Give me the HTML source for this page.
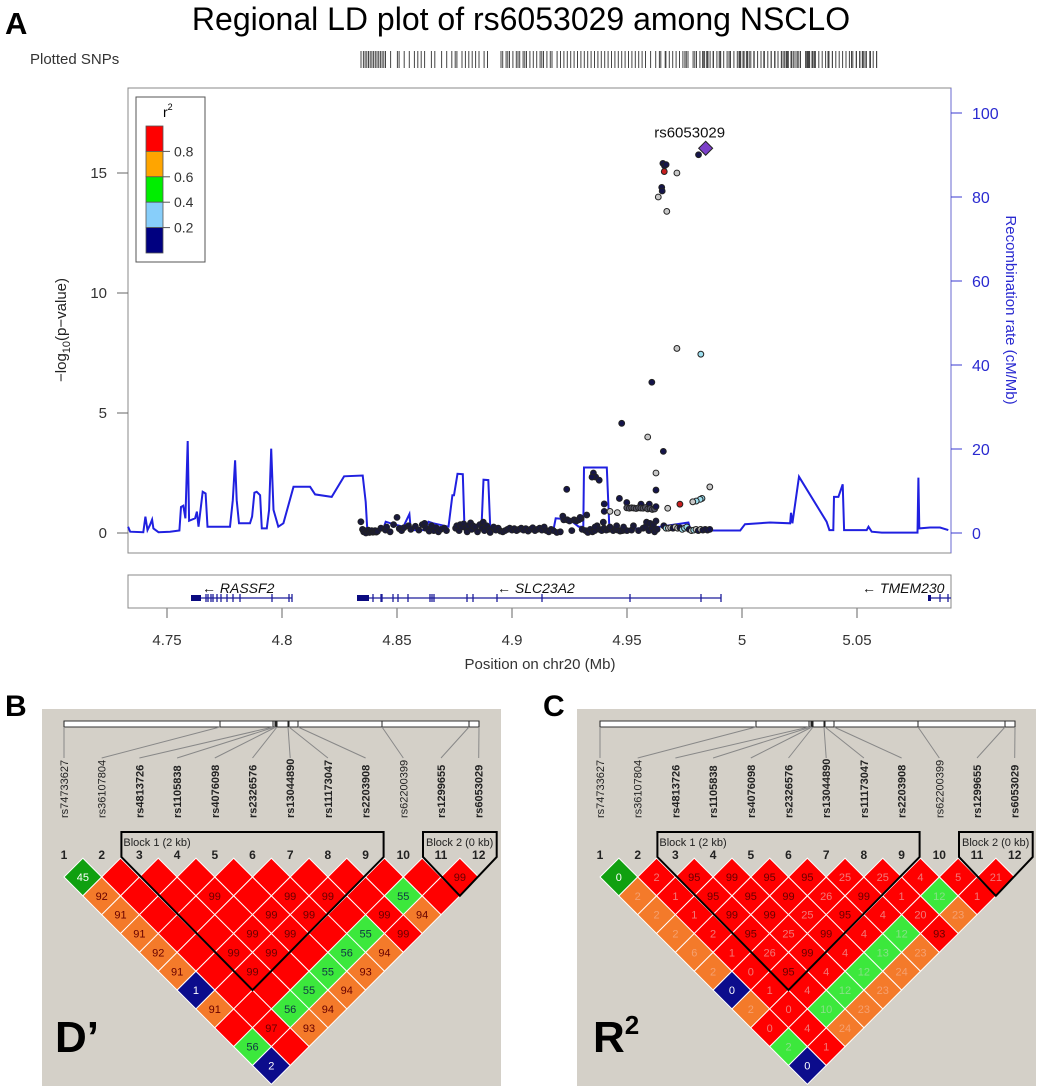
<!DOCTYPE html>
<html><head><meta charset="utf-8"><style>
html,body{margin:0;padding:0;background:#fff}
svg{display:block;font-family:"Liberation Sans",Arial,sans-serif}
</style></head><body>
<svg id="fig" width="1040" height="1090" viewBox="0 0 1040 1090" xmlns="http://www.w3.org/2000/svg">
<text x="5" y="34" font-size="31" font-weight="bold">A</text>
<text x="521" y="30" font-size="32" text-anchor="middle">Regional LD plot of rs6053029 among NSCLO</text>
<text x="30" y="64" font-size="15" fill="#333">Plotted SNPs</text>
<g id="snpbar"></g>
<rect x="128" y="88" width="823" height="465" fill="none" stroke="#888" stroke-width="1"/>
<g id="recomb"></g>
<g id="points"></g>
<g id="axes"></g>
<text transform="translate(66,330) rotate(-90)" font-size="15" text-anchor="middle" fill="#222">−log<tspan font-size="11" dy="4">10</tspan><tspan dy="-4">(p−value)</tspan></text>
<text transform="translate(1006,310) rotate(90)" font-size="15" text-anchor="middle" fill="#2a2ad0">Recombination rate (cM/Mb)</text>
<g>
<rect x="136" y="97" width="69" height="165" fill="#fff" stroke="#555"/>
<text x="163" y="117" font-size="14">r<tspan font-size="9" dy="-7">2</tspan></text>
<g id="legend-bar"></g>
</g>
<rect x="128" y="575" width="823" height="33" fill="#fff" stroke="#888"/>
<g id="genes"></g>
<text x="540" y="669" font-size="15" text-anchor="middle" fill="#333">Position on chr20 (Mb)</text>

<text x="5" y="716" font-size="30" font-weight="bold">B</text>
<text x="543" y="716" font-size="30" font-weight="bold">C</text>
<rect x="42" y="709" width="459" height="377" fill="#d4d0c8"/>
<rect x="577" y="709" width="459" height="377" fill="#d4d0c8"/>
<g id="ldB"></g>
<g id="ldC"></g>
<text x="55" y="1052" font-size="44" font-weight="bold">D’</text>
<text x="593" y="1052" font-size="44" font-weight="bold">R<tspan font-size="26" dy="-18">2</tspan></text>
</svg>
<script>
// ---- Panel A data ----
const xTicks = [4.75, 4.8, 4.85, 4.9, 4.95, 5, 5.05];
const xTickLabels = ["4.75", "4.8", "4.85", "4.9", "4.95", "5", "5.05"];
const yTicks = [0, 5, 10, 15];
const rTicks = [0, 20, 40, 60, 80, 100];
const recPos = [4.7331,4.734,4.7397,4.7406,4.7415,4.7426,4.7435,4.7441,4.7463,4.7513,4.7554,4.7561,4.7571,4.758,4.759,4.7596,4.7622,4.763,4.7637,4.7655,4.7668,4.7676,4.7774,4.7786,4.7796,4.7803,4.7813,4.7861,4.787,4.788,4.789,4.7905,4.7912,4.7934,4.7944,4.7953,4.7963,4.7984,4.8006,4.805,4.8122,4.8144,4.8216,4.827,4.8351,4.8364,4.8371,4.8441,4.8451,4.8484,4.8528,4.8554,4.856,4.8622,4.8637,4.8658,4.8724,4.8741,4.8748,4.8763,4.8786,4.8793,4.8868,4.8876,4.8897,4.8905,4.8963,4.918,4.919,4.925,4.929,4.931,4.9313,4.9412,4.9423,4.9499,4.9644,4.9767,4.9777,4.9992,5.0013,5.0122,5.0209,5.0213,5.0219,5.0248,5.0368,5.038,5.0397,5.04,5.0419,5.0438,5.0444,5.0542,5.055,5.0564,5.0608,5.0763,5.0767,5.0771,5.0818,5.0861,5.0897];
const recRate = [1.5,0.3,0.2,3.9,0.7,1.9,3.2,1.1,0.2,0.3,0.6,6.2,6.5,3.5,21.9,2.9,3.5,5.1,1.5,9.8,9.4,1.5,1.5,7.8,17.3,7.8,2.3,2.3,3.9,9.6,9.8,9.0,1.1,1.1,5.5,20.1,5.5,1.5,2.3,11.0,11.0,9.2,8.6,13.5,13.7,7.4,0.7,1.1,2.7,2.1,1.5,4.5,0.7,0.7,2.7,2.3,1.5,9.0,9.0,14.1,14.0,1.9,1.9,12.7,12.6,1.5,0.3,0.7,3.5,3.2,1.5,1.5,15.6,15.6,1.5,0.9,1.5,2.5,0.6,0.6,2.1,2.5,2.3,4.8,2.3,13.4,2.7,0.7,0.7,8.6,8.6,11.6,0.7,0.7,1.5,0.3,0.1,0.1,13.2,1.1,1.3,1.3,0.7];
const basePos = [4.835,4.8355,4.836,4.8365,4.837,4.8375,4.838,4.8385,4.839,4.8395,4.84,4.8405,4.841,4.8415,4.8343,4.843,4.845,4.8455,4.847,4.8485,4.85,4.851,4.852,4.853,4.855,4.856,4.858,4.8595,4.861,4.862,4.8625,4.864,4.865,4.866,4.867,4.868,4.869,4.8705,4.8715,4.8755,4.876,4.877,4.8775,4.878,4.879,4.88,4.8805,4.881,4.882,4.8825,4.883,4.884,4.885,4.886,4.887,4.8875,4.888,4.889,4.89,4.8905,4.892,4.893,4.894,4.895,4.896,4.897,4.898,4.899,4.9,4.901,4.902,4.903,4.904,4.905,4.906,4.907,4.908,4.909,4.91,4.911,4.912,4.913,4.914,4.915,4.916,4.917,4.918,4.9195,4.921,4.9225,4.924,4.925,4.926,4.927,4.928,4.929,4.93,4.9305,4.932,4.933,4.934,4.935,4.936,4.937,4.938,4.939,4.94,4.941,4.942,4.943,4.944,4.945,4.946,4.947,4.948,4.949,4.95,4.952,4.955,4.957,4.958,4.9595,4.961,4.962,4.9221,4.9296,4.9325,4.9361,4.9397,4.9426,4.9455,4.9485,4.9528,4.9585,4.96,4.9615,4.9626,4.9631];
const baseLogP = [.15,.05,.1,0,.08,.12,.02,.06,.1,.03,.05,.1,.04,.07,.47,.2,.12,.25,.05,.35,.65,.18,.1,.22,.3,.15,.28,.12,.35,.4,.2,.08,.3,.1,.22,.05,.15,.2,.1,.2,.3,.1,.35,.25,.38,.2,.05,.3,.42,.15,.3,.25,.05,.35,.2,.45,.1,.3,.15,.02,.25,.12,.2,.08,.05,.1,.15,.2,.12,.18,.1,.15,.2,.12,.18,.08,.15,.22,.1,.15,.2,.12,.25,.1,.05,.15,.1,.02,.05,.55,.55,.5,.1,.55,.5,.55,.6,.15,.1,.02,.15,.05,.1,.3,.15,.1,.2,.12,.15,.18,.1,.15,.12,.08,.1,.12,.1,.12,.1,.2,.25,.1,.2,.05,.7,.65,.75,.25,.45,.25,.3,.25,.3,.45,.4,.35,.5,.15];
const midPos = [4.9401,4.9401,4.9426,4.9458,4.9467,4.9499,4.9561,4.9597,4.9499,4.951,4.952,4.953,4.954,4.955,4.956,4.957,4.958,4.959,4.96,4.961,4.962,4.9626,4.9238,4.9354,4.9364,4.9348,4.9379,4.9477,4.9608,4.959,4.9658,4.9626,4.9626,4.986,4.9826,4.9818,4.9801,4.9786,4.973,4.9677,4.966,4.967,4.968,4.969,4.97,4.971,4.972,4.973,4.974,4.975,4.976,4.977,4.978,4.979,4.98,4.981,4.982,4.983,4.984,4.985,4.986,4.9811,4.9656,4.9663,4.967,4.9662,4.9717,4.9651,4.9653,4.9636,4.9673,4.9717,4.9821];
const midLogP = [1.21,0.9,0.9,0.85,1.44,1.27,1.2,1.2,1.05,1.03,1.05,1.04,1.02,1.05,1.04,1.03,1.06,1.0,1.02,0.98,1.0,1.1,1.82,2.5,2.33,2.33,2.2,4.57,6.28,4.0,3.4,2.5,1.79,1.92,1.44,1.4,1.33,1.3,1.2,1.03,0.3,0.2,0.2,0.22,0.2,0.25,0.2,0.22,0.15,0.2,0.25,0.15,0.1,0.12,0.15,0.1,0.15,0.12,0.15,0.12,0.15,15.76,15.4,15.3,15.35,15.06,15.0,14.4,14.25,14.0,13.4,7.69,7.45];
const midCat = ["n","n","g","g","n","n","n","n","d","d","d","d","d","d","d","d","d","d","d","d","d","n","n","n","n","n","n","n","n","g","n","g","n","g","c","c","c","g","r","g","n","c","g","g","n","g","g","n","c","c","c","n","g","c","g","n","g","n","n","n","n","n","n","n","n","r","g","n","n","g","g","g","c"];
const leadPos = [4.9842];
const leadLogP = [16.03];
const legendBreaks = ["0.8","0.6","0.4","0.2"];
const legendColors = ["#ff0000","#ffa500","#00ee00","#87cefa","#000080"];

const X = v => 167 + (v - 4.75) * 2300;
const Y = v => 533 - v * 24;
const R = v => 533 - v * 4.2;
const NS = "http://www.w3.org/2000/svg";
function mk(tag, attrs, parent, txt) {
  const e = document.createElementNS(NS, tag);
  for (const k in attrs) e.setAttribute(k, attrs[k]);
  if (txt !== undefined) e.textContent = txt;
  parent.appendChild(e); return e;
}
const axes = document.getElementById('axes');
xTicks.forEach((t, i) => {
  const l = mk('line', {x1: X(t), x2: X(t), y1: 608, y2: 618, stroke: '#666'}, axes);
  
  
  const tx = mk('text', {x: X(t), y: 645, 'font-size': 15, 'text-anchor': 'middle', fill: '#333'}, axes, xTickLabels[i]);
  
  
});
yTicks.forEach(t => {
  mk('line', {x1: 117, x2: 128, y1: Y(t), y2: Y(t), stroke: '#666'}, axes);
  const tx = mk('text', {x: 107, y: Y(t) + 5, 'font-size': 15, 'text-anchor': 'end', fill: '#333'}, axes, String(t));
  
  
});
mk('line', {x1: 951, x2: 951, y1: 88, y2: 553, stroke: '#6a6ad0'}, axes);
rTicks.forEach(t => {
  mk('line', {x1: 951, x2: 962, y1: R(t), y2: R(t), stroke: '#3a3ad0'}, axes);
  const tx = mk('text', {x: 972, y: R(t) + 6, 'font-size': 16, fill: '#2a2ad0'}, axes, String(t));
  
  
});
// recombination line
const rec = document.getElementById('recomb');
let d = recPos.map((p, i) => (i ? 'L' : 'M') + X(p).toFixed(1) + ' ' + R(recRate[i]).toFixed(1)).join(' ');
const rp = mk('path', {d: d, fill: 'none', stroke: '#2020e0', 'stroke-width': 2}, rec);


// points
const pts = document.getElementById('points');
const catFill = {n: '#14144a', g: '#c8c8c8', c: '#9fe0f0', r: '#c81e1e', d: '#555566'};
basePos.forEach((p, i) => {
  const c = mk('circle', {cx: X(p), cy: Y(baseLogP[i]), r: 3, fill: '#1a1a3a', stroke: '#222', 'stroke-width': 0.8}, pts);
  
  
});
midPos.forEach((p, i) => {
  const c = mk('circle', {cx: X(p), cy: Y(midLogP[i]), r: 2.9, fill: catFill[midCat[i]], stroke: '#222', 'stroke-width': 1}, pts);
  
  
});
leadPos.forEach((p, i) => {
  const x = X(p), y = Y(leadLogP[i]);
  const dm = mk('path', {d: `M${x} ${y-7}L${x+7} ${y}L${x} ${y+7}L${x-7} ${y}Z`, fill: '#7b3fc8', stroke: '#222', 'stroke-width': 1}, pts);
  
  
  const t = mk('text', {x: x - 16, y: y - 11, 'font-size': 15, 'text-anchor': 'middle', fill: '#111'}, pts, 'rs6053029');
  
  
});
// plotted SNPs bar
const bar = document.getElementById('snpbar');
const allPos = basePos.concat(midPos, leadPos).sort((a, b) => a - b);
const bx = p => 360 + (p - 4.834) / (4.987 - 4.834) * 520;
allPos.forEach(p => {
  mk('line', {x1: bx(p).toFixed(1), x2: bx(p).toFixed(1), y1: 51, y2: 68, stroke: '#444', 'stroke-width': 1}, bar);
});
// legend
const lb = document.getElementById('legend-bar');
legendColors.forEach((c, i) => {
  const r = mk('rect', {x: 146, y: 126 + i * 25.4, width: 17, height: 25.4, fill: c, stroke: '#555', 'stroke-width': 0.8}, lb);
  
  
});
legendBreaks.forEach((t, i) => {
  const y = 126 + (i + 1) * 25.4;
  mk('line', {x1: 163, x2: 170, y1: y, y2: y, stroke: '#555'}, lb);
  const tx = mk('text', {x: 174, y: y + 5, 'font-size': 14, fill: '#333'}, lb, t);
  
  
});
// genes
const genes = document.getElementById('genes');
function gene(name, x0, x1, thick, exons, lx) {
  mk('line', {x1: x0, x2: x1, y1: 598, y2: 598, stroke: '#1c1c9a', 'stroke-width': 1.2}, genes);
  mk('rect', {x: thick[0], y: 595, width: thick[1] - thick[0], height: 6, fill: '#0a0a80'}, genes);
  exons.forEach(e => mk('line', {x1: e, x2: e, y1: 594, y2: 602, stroke: '#1c1c9a', 'stroke-width': 1.3}, genes));
  const t = mk('text', {x: lx, y: 593, 'font-size': 14, 'font-style': 'italic', fill: '#111'}, genes, '← ' + name);
  
  
}
gene('RASSF2', 191, 292, [191, 201], [206,208,211,213,217,221,227,233,240,272,289,292], 202);
gene('SLC23A2', 357, 721, [357, 369], [373,381,382,393,398,408,430,432,434,467,473,497,542,630,701,721], 497);
gene('TMEM230', 928, 951, [928, 931], [940, 948], 862);

// ---- Panels B / C LD data ----
const snpNames = ["rs74733627","rs36107804","rs4813726","rs1105838","rs4076098","rs2326576","rs13044890","rs11173047","rs2203908","rs62200399","rs1299655","rs6053029"];
const snpBold = [0,0,1,1,1,1,1,1,1,0,1,1];
const barPos = [24,180,233,235,236,237,248,249,258,342,429,439];
const ldColorRows = ["gRRRRRRRRRR","ORRRRRRRGR","ORRRRRRRO","ORRRRRGR","ORRRRGO","ORRRGO","BRRGO","ORGO","RRO","GR","B"];
const dprimeRows = [
 [45,"","","","","","","","","",99],
 [92,"","",99,"",99,99,"",55,""],
 [91,"","","",99,99,"",99,94],
 [91,"","",99,99,"",55,99],
 [92,"",99,99,"",56,94],
 [91,"",99,"",55,93],
 [1,"","",55,94],
 [91,"",56,94],
 ["",97,93],
 [56,""],
 [2]];
const r2Rows = [
 [0,2,95,99,95,95,25,25,4,5,21],
 [2,1,95,95,99,26,99,1,12,1],
 [2,1,99,99,25,95,4,20,23],
 [2,2,95,25,99,4,12,93],
 [6,1,26,99,4,13,23],
 [2,0,95,4,12,24],
 [0,1,4,12,23],
 [2,0,10,23],
 [0,4,24],
 [2,1],
 [0]];
const cellFill = {R: '#ff0000', O: '#f47a2a', G: '#3ce83c', g: '#10a010', B: '#0c0c8c'};
function ldPanel(gid, ox, vals, faint) {
  const g = document.getElementById(gid);
  const sp = 37.7, h = 18.85, x1 = ox + 24;
  const sx = i => x1 + i * sp;
  mk('rect', {x: ox + 24, y: 721, width: 415, height: 6, fill: '#fff', stroke: '#333', 'stroke-width': 1}, g);
  barPos.forEach((b, i) => {
    mk('line', {x1: ox + b, x2: ox + b, y1: 721, y2: 727, stroke: '#222'}, g);
    mk('line', {x1: ox + b, x2: sx(i), y1: 727, y2: 758, stroke: '#888'}, g);
    const t = mk('text', {transform: `translate(${sx(i) + 4},818) rotate(-90)`, 'font-size': 11, 'font-weight': snpBold[i] ? 'bold' : 'normal', fill: '#222'}, g, snpNames[i]);
    
    
    const n = mk('text', {x: sx(i), y: 859, 'font-size': 12, 'font-weight': 'bold', 'text-anchor': 'middle', fill: '#222'}, g, String(i + 1));
    
    
  });
  ldColorRows.forEach((row, di) => {
    row.split('').forEach((code, i) => {
      const cx = (sx(i) + sx(i + di + 1)) / 2, cy = 877 + di * h;
      const p = mk('path', {d: `M${cx} ${cy-h}L${cx+h} ${cy}L${cx} ${cy+h}L${cx-h} ${cy}Z`, fill: cellFill[code], stroke: '#fff', 'stroke-width': 1}, g);
      
      
      const v = vals[di][i];
      if (v !== "") {
        let col = (code === 'B' || code === 'g') ? '#fff' : '#600';
        if (faint && v < 90 && code !== 'B' && code !== 'g') col = code === 'R' ? '#f07a7a' : (code === 'O' ? '#f5a070' : '#88e088');
        if (code === 'G' && !faint) col = '#134';
        const t = mk('text', {x: cx, y: cy + 4, 'font-size': 11, 'text-anchor': 'middle', fill: col}, g, String(v));
        
        
      }
    });
  });
  const b1 = mk('path', {d: `M${sx(2)-18} 857 L${sx(2)-18} 832 L${sx(8)+18} 832 L${sx(8)+18} 857 L${(sx(2)+sx(8))/2} ${877+5*h+h} Z`, fill: 'none', stroke: '#000', 'stroke-width': 2}, g);
  
  
  const b2 = mk('path', {d: `M${sx(10)-18} 857 L${sx(10)-18} 832 L${sx(11)+18} 832 L${sx(11)+18} 857 L${(sx(10)+sx(11))/2} ${877+h} Z`, fill: 'none', stroke: '#000', 'stroke-width': 2}, g);
  
  
  mk('text', {x: sx(2) - 16, y: 846, 'font-size': 11, fill: '#222'}, g, 'Block 1 (2 kb)');
  mk('text', {x: sx(10) - 15, y: 846, 'font-size': 11, fill: '#222'}, g, 'Block 2 (0 kb)');
}
ldPanel('ldB', 40, dprimeRows, false);
ldPanel('ldC', 576, r2Rows, true);
</script>
</body></html>
